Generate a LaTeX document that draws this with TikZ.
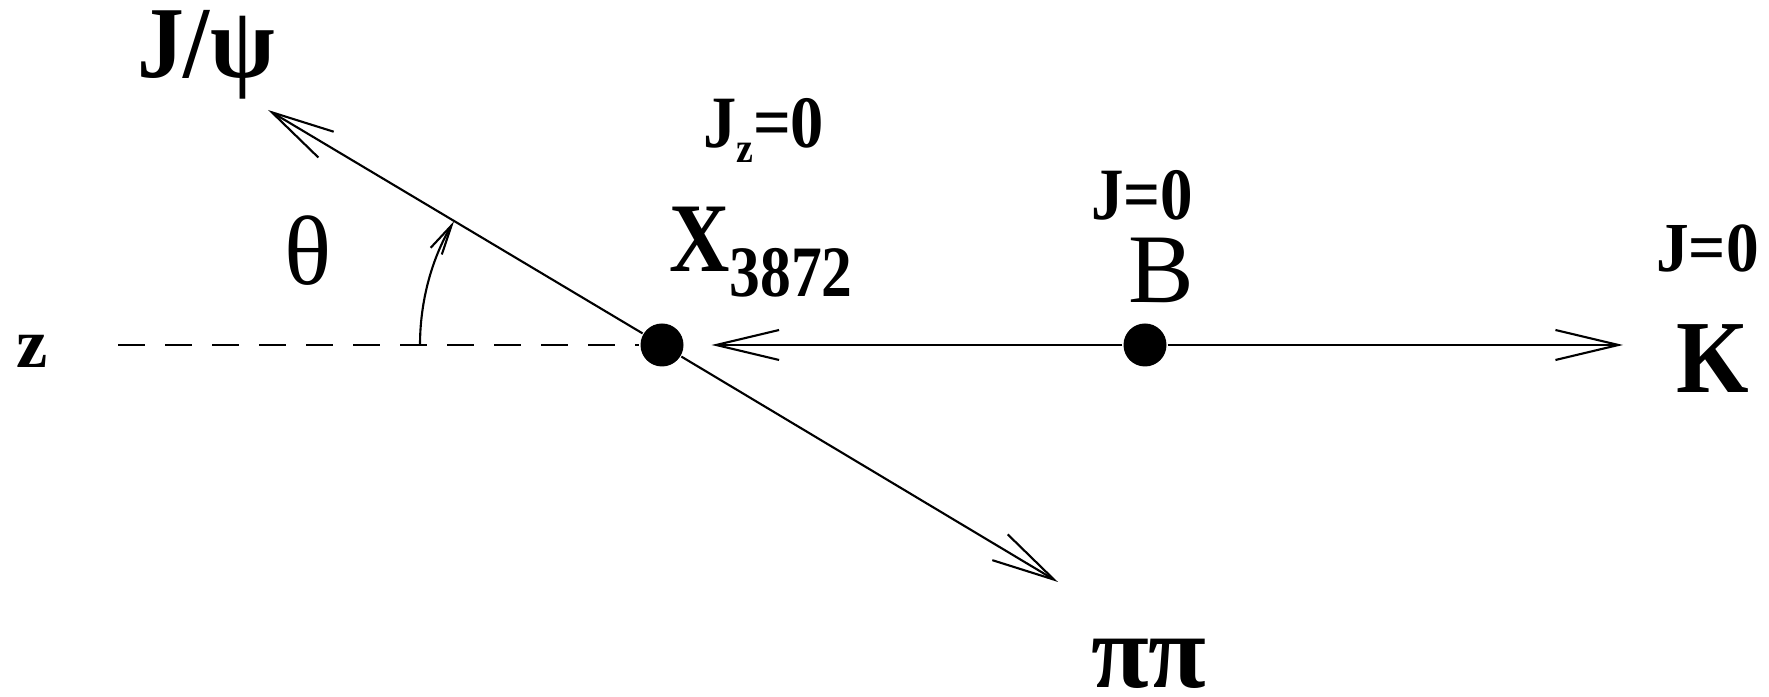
\documentclass[tikz,border=0pt]{standalone}
\usepackage{fontspec}
\setmainfont{Liberation Serif}
\usetikzlibrary{arrows.meta}

\tikzset{
    dot/.style={circle, fill=black, inner sep=0pt, minimum size=4.3mm},
    barb/.style={-{Straight Barb[length=6.3mm, width=3mm]}},
    smallbarb/.style={-{Straight Barb[length=3mm, width=1.3mm]}},
    lbl/.style={inner sep=0pt, anchor=base west},
}
\newcommand{\fs}[1]{\fontsize{#1}{#1}\selectfont}
\newcommand{\narrow}[2]{\scalebox{#1}[1]{#2}}

\begin{document}
\begin{tikzpicture}[line width=0.6pt]
    % 图的边界
    \useasboundingbox (0,0) rectangle (17.69,-6.97);

    \def\r{2.42}      % 角度弧半径
    \def\ang{149.2}   % J/psi 方向

    % 粒子位置
    \node[dot] (X) at (6.62,-3.45) {};
    \node[dot] (B) at (11.45,-3.45) {};
    \coordinate (jpsi) at (2.68,-1.10);
    \coordinate (pipi) at (10.58,-5.82);
    \coordinate (kaon) at (16.23,-3.45);
    \coordinate (zend) at (1.18,-3.45);

    % z 轴（虚线）
    \draw[dash pattern=on 2.7mm off 2mm] (zend) -- (X);

    % B -> X K
    \draw[barb, shorten >=2.7mm] (B) -- (X);
    \draw[barb] (B) -- (kaon);

    % X -> J/psi pi pi
    \draw[barb] (X) -- (jpsi);
    \draw[barb] (X) -- (pipi);

    % 角度 theta
    \draw[smallbarb] ([shift={(180:\r)}]X.center)
        arc[start angle=180, end angle=\ang, radius=\r];

    % 标注
    \node[lbl] (zlbl) at (0.15,-3.68) {\fs{20}\textbf{z}};
    \node[lbl] (theta) at (2.83,-2.85) {\fs{28}θ};
    \node[lbl] (jpsilbl) at (1.36,-0.78)
        {\narrow{0.92}{\fs{29}\textbf{J/ψ}}};
    \node[lbl] (jz) at (7.02,-1.48)
        {\narrow{0.9}{\fs{21}\textbf{J\raisebox{-4pt}{\fs{12}z}=0}}};
    \node[lbl] (xlbl) at (6.68,-2.72)
        {\narrow{0.85}{\fs{28}\textbf{X\raisebox{-7pt}{\fs{20.6}3872}}}};
    \node[lbl] (jb) at (10.90,-2.20) {\narrow{0.88}{\fs{21}\textbf{J=0}}};
    \node[lbl] (blbl) at (11.27,-3.03) {\fs{28}B};
    \node[lbl] (jk) at (16.55,-2.72) {\narrow{0.93}{\fs{20}\textbf{J=0}}};
    \node[lbl] (klbl) at (16.75,-3.93) {\narrow{0.9}{\fs{29.5}\textbf{K}}};
    \node[lbl] (pplbl) at (10.90,-6.88) {\fs{30}\textbf{ππ}};

\end{tikzpicture}
\end{document}
